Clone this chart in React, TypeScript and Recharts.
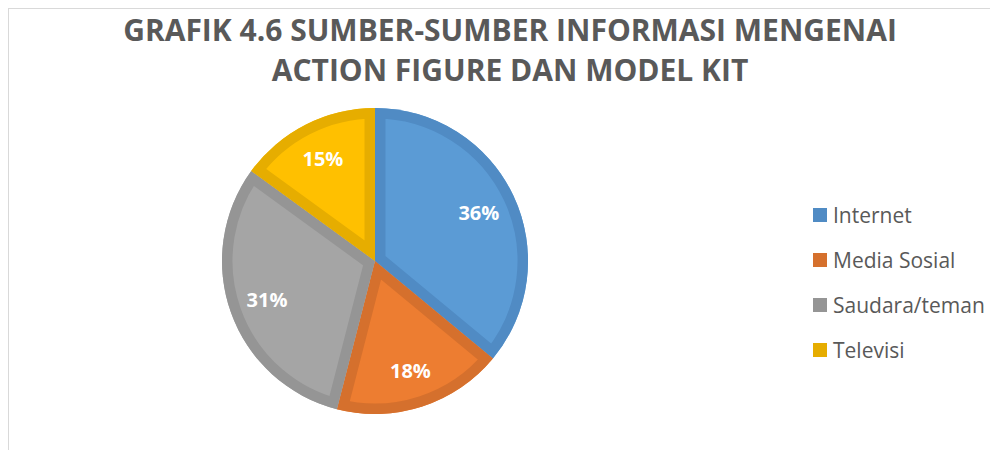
import { Cell, Legend, Pie, PieChart, Sector } from "recharts"

const categories = ["Internet", "Media Sosial", "Saudara/teman", "Televisi"]
const shares = [36, 18, 31, 15]
const fills = ["#5b9bd5", "#ed7d31", "#a5a5a5", "#ffc000"]
const borders = ["#508bc4", "#d5702d", "#959595", "#e6ad00"]
const titleLines = ["GRAFIK 4.6 SUMBER-SUMBER INFORMASI MENGENAI", "ACTION FIGURE DAN MODEL KIT"]

const data = categories.map((name, i) => ({ name, value: shares[i] }))

const RAD = Math.PI / 180
const FONT = "'Open Sans', 'Noto Sans', sans-serif"

// draws the inner border of each slice (clipped to the slice) plus the % label
function SliceLabel(props: any) {
  const { cx, cy, outerRadius, innerRadius, startAngle, endAngle, midAngle, index, percent } = props
  const r = outerRadius * 0.75
  const x = cx + r * Math.cos(-midAngle * RAD)
  const y = cy + r * Math.sin(-midAngle * RAD)
  const id = `slice-clip-${index}`
  return (
    <g>
      <clipPath id={id}>
        <Sector cx={cx} cy={cy} innerRadius={innerRadius} outerRadius={outerRadius} startAngle={startAngle} endAngle={endAngle} />
      </clipPath>
      <g clipPath={`url(#${id})`}>
        <Sector
          cx={cx}
          cy={cy}
          innerRadius={innerRadius}
          outerRadius={outerRadius}
          startAngle={startAngle}
          endAngle={endAngle}
          fill="none"
          stroke={borders[index]}
          strokeWidth={21}
        />
      </g>
      <text
        x={x}
        y={y}
        fill="#fff"
        textAnchor="middle"
        dominantBaseline="central"
        fontFamily={FONT}
        fontWeight={700}
        fontSize={20}
      >
        {`${Math.round(percent * 100)}%`}
      </text>
    </g>
  )
}

function LegendList() {
  return (
    <div style={{ fontFamily: FONT, fontSize: 21, color: "#595959" }}>
      {categories.map((c, i) => (
        <div key={c} style={{ height: 45, display: "flex", alignItems: "center" }}>
          <span style={{ width: 14, height: 14, background: borders[i], marginRight: 6, display: "inline-block" }} />
          <span>{c}</span>
        </div>
      ))}
    </div>
  )
}

export default function App() {
  return (
    <div style={{ position: "relative", width: 990, height: 442, overflow: "hidden", background: "#fff" }}>
      <div
        style={{
          position: "absolute",
          left: 0,
          top: 0,
          width: 1200,
          height: 600,
          borderLeft: "1px solid #d9d9d9",
          borderTop: "1px solid #d9d9d9",
        }}
      />
      <div
        style={{
          position: "absolute",
          left: 12,
          top: 2,
          width: 980,
          textAlign: "center",
          fontFamily: FONT,
          fontWeight: 700,
          fontSize: 30,
          lineHeight: "40px",
          color: "#595959",
        }}
      >
        {titleLines.map((t) => (
          <div key={t}>{t}</div>
        ))}
      </div>
      <PieChart width={990} height={442} style={{ position: "absolute", left: 0, top: 0 }}>
        <Pie
          data={data}
          dataKey="value"
          nameKey="name"
          cx={362}
          cy={248}
          outerRadius={153}
          startAngle={90}
          endAngle={-270}
          stroke="none"
          label={SliceLabel}
          labelLine={false}
          isAnimationActive={false}
        >
          {data.map((d, i) => (
            <Cell key={d.name} fill={fills[i]} />
          ))}
        </Pie>
        <Legend
          content={<LegendList />}
          wrapperStyle={{ position: "absolute", left: 805, top: 184, width: 185 }}
        />
      </PieChart>
    </div>
  )
}
